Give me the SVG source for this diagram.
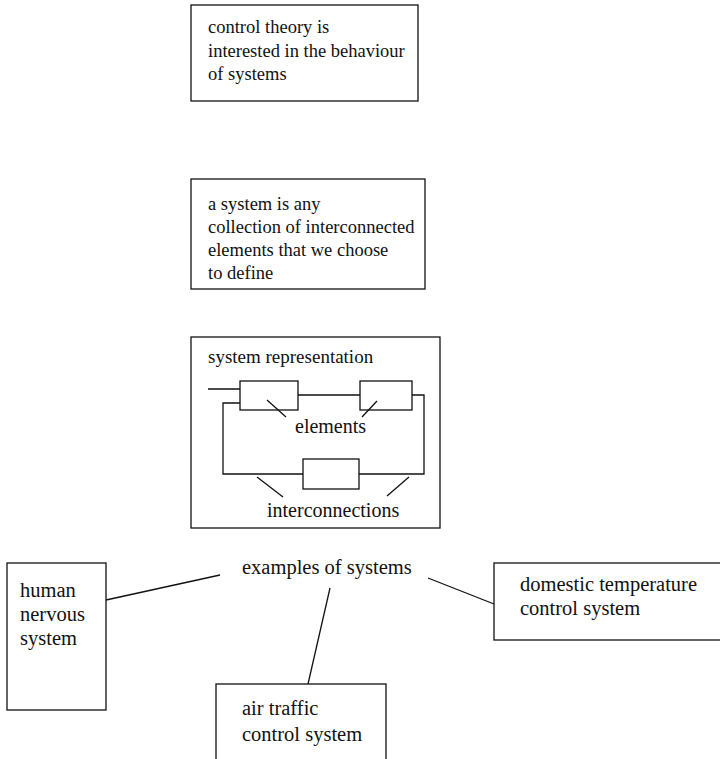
<svg xmlns="http://www.w3.org/2000/svg" width="720" height="759" viewBox="0 0 720 759">
<style>
.box{fill:#fff;stroke:#111;stroke-width:1.3}
.ln{fill:none;stroke:#111;stroke-width:1.3}
.el{fill:#fff;stroke:#111;stroke-width:1.3}
text{font-family:"Liberation Serif","Times New Roman",serif;font-size:20.5px;fill:#111}
.sm{font-size:18.5px}
</style>
<rect width="720" height="759" fill="#fff"/>
<g id="node-control-theory">
<rect class="box" x="191" y="5" width="227" height="96"/>
<text class="sm" x="208" y="33">control theory is</text>
<text class="sm" x="208" y="57">interested in the behaviour</text>
<text class="sm" x="208" y="80">of systems</text>
</g>
<g id="node-system-definition">
<rect class="box" x="191" y="179" width="234" height="110"/>
<text class="sm" x="208" y="210">a system is any</text>
<text class="sm" x="208" y="233">collection of interconnected</text>
<text class="sm" x="208" y="256">elements that we choose</text>
<text class="sm" x="208" y="279">to define</text>
</g>
<g id="node-system-representation">
<rect class="box" x="191" y="337" width="249" height="191"/>
<text x="208" y="363" style="font-size:19px">system representation</text>
<path class="ln" d="M208 389H240M298 395H360M412 395H424V474H359M303 474H223V403H240"/>
<rect class="el" x="240" y="381" width="58" height="29"/>
<rect class="el" x="360" y="381" width="52" height="29"/>
<rect class="el" x="303" y="459" width="56" height="30"/>
<path class="ln" d="M267 400L286 417M377 401L362 417M257 477L283 497M409 477L387 496"/>
<text x="295" y="433" style="font-size:20px">elements</text>
<text x="267" y="517" style="font-size:20px">interconnections</text>
</g>
<g id="node-examples">
<text x="242" y="574">examples of systems</text>
</g>
<g id="node-human">
<rect class="box" x="7" y="563" width="99" height="147"/>
<text x="20" y="597">human</text>
<text x="20" y="621">nervous</text>
<text x="20" y="645">system</text>
</g>
<g id="node-domestic">
<rect class="box" x="494" y="563" width="232" height="77"/>
<text x="520" y="591">domestic temperature</text>
<text x="520" y="615">control system</text>
</g>
<g id="node-air-traffic">
<rect class="box" x="216" y="684" width="170" height="80"/>
<text x="242" y="715">air traffic</text>
<text x="242" y="741">control system</text>
</g>
<g id="connectors">
<path class="ln" d="M106 600L220 575"/>
<path class="ln" d="M330 588L308 684"/>
<path class="ln" d="M428 578L494 604"/>
</g>
</svg>
